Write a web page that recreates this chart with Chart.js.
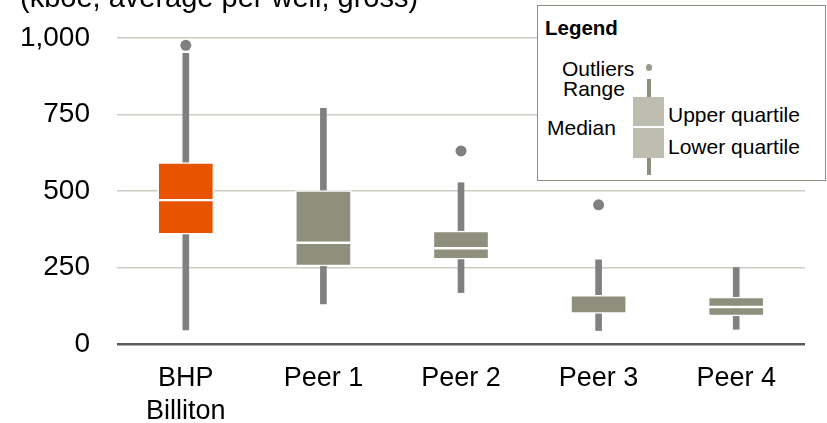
<!DOCTYPE html>
<html><head><meta charset="utf-8">
<script src="https://cdn.jsdelivr.net/npm/chart.js@4/dist/chart.umd.min.js"></script>
<style>
html,body{margin:0;padding:0;background:#fff;}
#wrap{position:relative;width:827px;height:423px;overflow:hidden;font-family:"Liberation Sans",Arial,sans-serif;}
canvas{position:absolute;left:0;top:0;}
.t{position:absolute;white-space:nowrap;color:#000;}
.lg{font-size:21px;line-height:21px;}
</style></head><body>
<div id="wrap">
<canvas id="c" width="827" height="423"></canvas>
<div class="t" style="left:20px;top:-17px;font-size:29px;line-height:29px;">(kboe, average per well, gross)</div>
<div style="position:absolute;left:537px;top:5px;width:289px;height:176px;box-sizing:border-box;border:1.5px solid #8f8f7f;background:#fff;"></div>
<div class="t" style="left:545px;top:18px;font-size:20.5px;line-height:20.5px;font-weight:bold;">Legend</div>
<div class="t lg" style="left:562px;top:58px;">Outliers</div>
<div class="t lg" style="left:563px;top:78px;">Range</div>
<div class="t lg" style="left:547px;top:117px;">Median</div>
<div class="t lg" style="left:668px;top:104px;">Upper quartile</div>
<div class="t lg" style="left:668px;top:136px;">Lower quartile</div>
<div style="position:absolute;left:645.7px;top:64.4px;width:6.6px;height:6.6px;border-radius:50%;background:#9a9a8a;"></div>
<div style="position:absolute;left:646.5px;top:79px;width:4.5px;height:96px;background:#8f8f7e;"></div>
<div style="position:absolute;left:633px;top:97px;width:31px;height:61px;background:#bdbdb0;"></div>
<div style="position:absolute;left:633px;top:126px;width:31px;height:2px;background:#fff;"></div>
</div>
<script>
const categories = [['BHP', 'Billiton'], 'Peer 1', 'Peer 2', 'Peer 3', 'Peer 4'];
const minValues = [46, 131, 168, 44, 48];
const q1Values = [359, 255, 277, 100, 92];
const medianValues = [470, 331, 313, 100, 121];
const q3Values = [593, 501, 369, 159, 153];
const maxValues = [950, 770, 527, 275, 250];
const outlierValues = [976, null, 631, 455, null];
const yTicks = [0, 250, 500, 750, 1000];

const boxColors = ['#e85300', '#8f8f7d', '#8f8f7d', '#8f8f7d', '#8f8f7d'];

const boxCommon = {
  type: 'bar',
  backgroundColor: boxColors,
  borderColor: '#ffffff',
  borderWidth: 1.5,
  borderSkipped: false,
  barThickness: 56,
  grouped: false,
  order: 1
};

new Chart(document.getElementById('c'), {
  type: 'bar',
  data: {
    labels: categories,
    datasets: [
      {
        type: 'line',
        data: outlierValues,
        showLine: false,
        pointRadius: 5.5,
        pointHoverRadius: 5.5,
        pointBackgroundColor: '#808080',
        pointBorderWidth: 0,
        clip: false,
        order: 0
      },
      Object.assign({}, boxCommon, { data: categories.map((_, i) => [q1Values[i], medianValues[i]]) }),
      Object.assign({}, boxCommon, { data: categories.map((_, i) => [medianValues[i], q3Values[i]]) }),
      {
        type: 'bar',
        data: categories.map((_, i) => [minValues[i], maxValues[i]]),
        backgroundColor: '#808080',
        borderWidth: 0,
        barThickness: 6,
        grouped: false,
        order: 2
      }
    ]
  },
  options: {
    responsive: false,
    animation: false,
    layout: { padding: { top: 38, right: 22, left: 0, bottom: 0 } },
    plugins: { legend: { display: false }, tooltip: { enabled: false } },
    scales: {
      x: {
        grid: { display: false, drawTicks: false },
        border: { display: false },
        ticks: {
          color: '#000',
          padding: 18,
          maxRotation: 0,
          autoSkip: false,
          font: { family: '"Liberation Sans", Arial, sans-serif', size: 27, lineHeight: 1.22 }
        },
        afterFit: s => { s.height = 79; }
      },
      y: {
        min: 0,
        max: 1000,
        afterBuildTicks: s => { s.ticks = yTicks.map(v => ({ value: v })); },
        grid: {
          drawTicks: false,
          color: c => (c.tick && c.tick.value === 0) ? '#5a5a5a' : '#cdcdc4',
          lineWidth: c => (c.tick && c.tick.value === 0) ? 2.5 : 1.5
        },
        border: { display: false },
        ticks: {
          color: '#000',
          padding: 27,
          callback: v => Number(v).toLocaleString('en-US'),
          font: { family: '"Liberation Sans", Arial, sans-serif', size: 28 }
        },
        afterFit: s => { s.width = 117; s.paddingTop = 0; s.paddingBottom = 0; }
      }
    }
  }
});
</script>
</body></html>
